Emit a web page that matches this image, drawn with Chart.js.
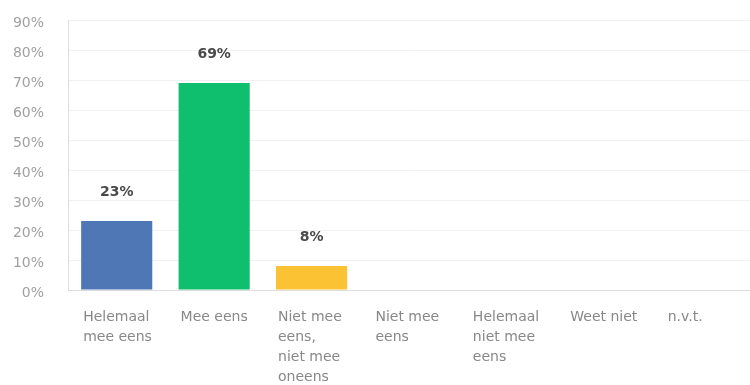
<!DOCTYPE html>
<html>
<head>
<meta charset="utf-8">
<script src="https://cdn.jsdelivr.net/npm/chart.js@4.4.1/dist/chart.umd.min.js"></script>
<style>
  html, body { margin: 0; padding: 0; background: #fff; }
  #wrap { width: 750px; height: 385px; position: relative; }
</style>
</head>
<body>
<div id="wrap"><canvas id="chart"></canvas></div>
<script>
// antwoordcategorieën (per regel afgebroken zoals onder de as)
const categories = [
  ['Helemaal', 'mee eens'],
  ['Mee eens'],
  ['Niet mee', 'eens,', 'niet mee', 'oneens'],
  ['Niet mee', 'eens'],
  ['Helemaal', 'niet mee', 'eens'],
  ['Weet niet'],
  ['n.v.t.']
];
const percentages = [23, 69, 8, 0, 0, 0, 0];
const barColors = ['#4f77b6', '#0fbf6e', '#fbc234', '#cccccc', '#cccccc', '#cccccc', '#cccccc'];
const yTicks = [0, 10, 20, 30, 40, 50, 60, 70, 80, 90];

const FONT = '"DejaVu Sans", Verdana, sans-serif';

// percentages boven de balken + linksuitgelijnde categorielabels
const labelPlugin = {
  id: 'labels',
  afterDatasetsDraw(chart) {
    const ctx = chart.ctx;
    const meta = chart.getDatasetMeta(0);
    const x = chart.scales.x;
    ctx.save();
    meta.data.forEach((bar, i) => {
      const v = percentages[i];
      if (v > 0) {
        ctx.font = 'bold 14px ' + FONT;
        ctx.fillStyle = '#4a4a4a';
        ctx.textAlign = 'center';
        ctx.textBaseline = 'middle';
        ctx.fillText(v + '%', bar.x, bar.y - 29);
      }
      const left = x.getPixelForValue(i) - bar.width / 2;
      ctx.font = '14px ' + FONT;
      ctx.fillStyle = '#888888';
      ctx.textAlign = 'left';
      ctx.textBaseline = 'middle';
      categories[i].forEach((line, j) => {
        ctx.fillText(line, left + 2, chart.chartArea.bottom + 27 + j * 20);
      });
    });
    ctx.restore();
  }
};

new Chart(document.getElementById('chart'), {
  type: 'bar',
  data: {
    labels: categories.map(c => c.join(' ')),
    datasets: [{
      data: percentages,
      backgroundColor: barColors,
      borderWidth: 0,
      categoryPercentage: 1,
      barPercentage: 0.73
    }]
  },
  options: {
    responsive: true,
    maintainAspectRatio: false,
    animation: false,
    layout: { padding: { top: 20, bottom: 87, left: 0, right: 0 } },
    plugins: { legend: { display: false }, tooltip: { enabled: false } },
    scales: {
      x: {
        ticks: { display: false },
        grid: { display: false },
        border: { color: '#dddddd' }
      },
      y: {
        min: 0,
        max: 90,
        afterBuildTicks: s => { s.ticks = yTicks.map(v => ({ value: v })); },
        // vaste asbreedte; tick-padding niet ook boven/onder laten meetellen
        afterFit: s => { s.width = 68; s.paddingTop = 0; s.paddingBottom = 0; },
        ticks: {
          padding: 24,
          labelOffset: 3,
          color: '#a0a0a0',
          font: { family: FONT, size: 14 },
          callback: v => v + '%'
        },
        grid: { color: '#f1f1f1', drawTicks: false },
        border: { color: '#dddddd' }
      }
    }
  },
  plugins: [labelPlugin]
});
</script>
</body>
</html>
